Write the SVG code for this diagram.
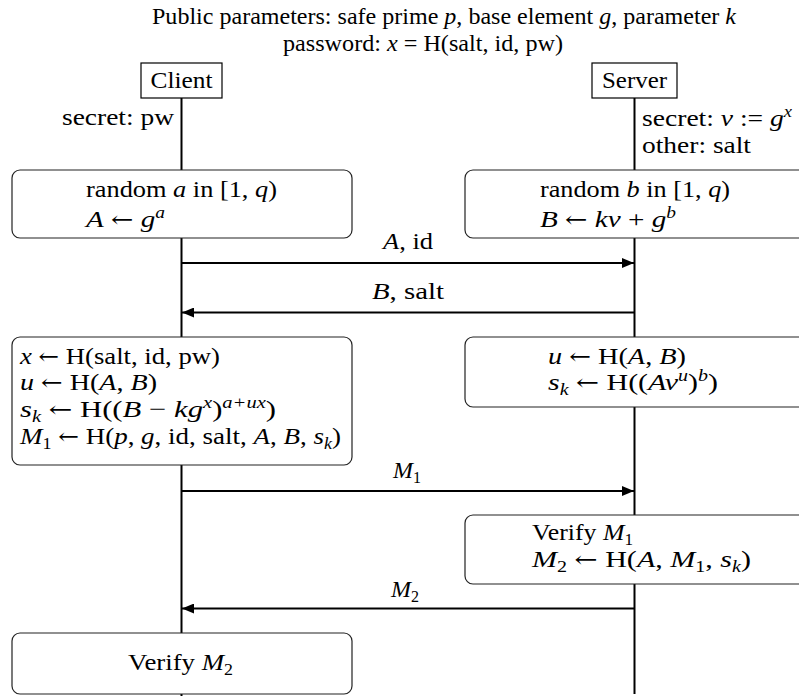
<svg xmlns="http://www.w3.org/2000/svg" width="799" height="696" viewBox="0 0 799 696" font-family="'Liberation Serif', 'Times New Roman', serif">
<defs>
<style>
text { font-family: 'Liberation Serif', 'Times New Roman', serif; font-size: 24px; fill: #000; }
.i { font-style: italic; }
.s { font-size: 16px; }
.ar { font-family: 'DejaVu Serif', 'DejaVu Sans', serif; font-size: 22px; }
.box { fill: #fff; stroke: #222; stroke-width: 1.2; }
.actor { fill: #fff; stroke: #000; stroke-width: 1.2; }
.life { stroke: #000; stroke-width: 2; fill: none; }
.msg { stroke: #000; stroke-width: 2; fill: none; marker-end: url(#arr); }
</style>
<marker id="arr" markerUnits="userSpaceOnUse" markerWidth="12" markerHeight="10" refX="12" refY="5" orient="auto">
<path d="M0,0 L12,5 L0,10 z" fill="#000"/>
</marker>
</defs>
<rect width="799" height="696" fill="#fff"/>

<g id="title">
<text x="444" y="24" text-anchor="middle" textLength="584" lengthAdjust="spacingAndGlyphs">Public parameters: safe prime <tspan class="i">p</tspan>, base element <tspan class="i">g</tspan>, parameter <tspan class="i">k</tspan></text>
<text x="423" y="51" text-anchor="middle" textLength="280" lengthAdjust="spacingAndGlyphs">password: <tspan class="i">x</tspan> = H(salt, id, pw)</text>
</g>

<g id="lifelines">
<line class="life" x1="181.5" y1="98" x2="181.5" y2="696"/>
<line class="life" x1="634.5" y1="98" x2="634.5" y2="694"/>
</g>

<g id="client">
<rect class="actor" x="141" y="63" width="81" height="35"/>
<text x="181.5" y="88" text-anchor="middle" textLength="62" lengthAdjust="spacingAndGlyphs">Client</text>
<text x="174" y="125" text-anchor="end" textLength="112" lengthAdjust="spacingAndGlyphs">secret: pw</text>
</g>

<g id="server">
<rect class="actor" x="592" y="63" width="85" height="35"/>
<text x="634.5" y="88" text-anchor="middle" textLength="65" lengthAdjust="spacingAndGlyphs">Server</text>
<text x="642" y="126" textLength="150" lengthAdjust="spacingAndGlyphs">secret: <tspan class="i">v</tspan> := <tspan class="i">g</tspan><tspan class="i s" dy="-9">x</tspan></text>
<text x="642" y="153" textLength="109" lengthAdjust="spacingAndGlyphs">other: salt</text>
</g>

<g id="client-step1">
<rect class="box" x="12" y="170" width="340" height="68" rx="8"/>
<text x="86" y="197" textLength="191" lengthAdjust="spacingAndGlyphs">random <tspan class="i">a</tspan> in [1, <tspan class="i">q</tspan>)</text>
<text x="86" y="227" textLength="79" lengthAdjust="spacingAndGlyphs"><tspan class="i">A</tspan> <tspan class="ar">←</tspan> <tspan class="i">g</tspan><tspan class="i s" dy="-9">a</tspan></text>
</g>

<g id="server-step1">
<rect class="box" x="465" y="170" width="345" height="68" rx="8"/>
<text x="540" y="197" textLength="190" lengthAdjust="spacingAndGlyphs">random <tspan class="i">b</tspan> in [1, <tspan class="i">q</tspan>)</text>
<text x="540" y="227" textLength="136" lengthAdjust="spacingAndGlyphs"><tspan class="i">B</tspan> <tspan class="ar">←</tspan> <tspan class="i">kv</tspan> + <tspan class="i">g</tspan><tspan class="i s" dy="-9">b</tspan></text>
</g>

<g id="client-step2">
<rect class="box" x="12" y="337" width="340" height="128" rx="8"/>
<text x="20" y="364" textLength="200" lengthAdjust="spacingAndGlyphs"><tspan class="i">x</tspan> <tspan class="ar">←</tspan> H(salt, id, pw)</text>
<text x="20" y="390" textLength="137" lengthAdjust="spacingAndGlyphs"><tspan class="i">u</tspan> <tspan class="ar">←</tspan> H(<tspan class="i">A</tspan>, <tspan class="i">B</tspan>)</text>
<text x="20" y="417" textLength="256" lengthAdjust="spacingAndGlyphs"><tspan class="i">s</tspan><tspan class="i s" dy="5">k</tspan><tspan dy="-5"> </tspan><tspan class="ar">←</tspan> H((<tspan class="i">B</tspan> − <tspan class="i">kg</tspan><tspan class="i s" dy="-9">x</tspan><tspan dy="9">)</tspan><tspan class="i s" dy="-9">a+ux</tspan><tspan dy="9">)</tspan></text>
<text x="20" y="444" textLength="321" lengthAdjust="spacingAndGlyphs"><tspan class="i">M</tspan><tspan class="s" dy="5">1</tspan><tspan dy="-5"> </tspan><tspan class="ar">←</tspan> H(<tspan class="i">p</tspan>, <tspan class="i">g</tspan>, id, salt, <tspan class="i">A</tspan>, <tspan class="i">B</tspan>, <tspan class="i">s</tspan><tspan class="i s" dy="5">k</tspan><tspan dy="-5">)</tspan></text>
</g>

<g id="server-step2">
<rect class="box" x="465" y="337" width="345" height="70" rx="8"/>
<text x="548" y="364" textLength="138" lengthAdjust="spacingAndGlyphs"><tspan class="i">u</tspan> <tspan class="ar">←</tspan> H(<tspan class="i">A</tspan>, <tspan class="i">B</tspan>)</text>
<text x="548" y="390" textLength="170" lengthAdjust="spacingAndGlyphs"><tspan class="i">s</tspan><tspan class="i s" dy="5">k</tspan><tspan dy="-5"> </tspan><tspan class="ar">←</tspan> H((<tspan class="i">Av</tspan><tspan class="i s" dy="-9">u</tspan><tspan dy="9">)</tspan><tspan class="i s" dy="-9">b</tspan><tspan dy="9">)</tspan></text>
</g>

<g id="server-step3">
<rect class="box" x="465" y="515" width="345" height="69" rx="8"/>
<text x="532" y="540" textLength="101" lengthAdjust="spacingAndGlyphs">Verify <tspan class="i">M</tspan><tspan class="s" dy="5">1</tspan></text>
<text x="532" y="567" textLength="219" lengthAdjust="spacingAndGlyphs"><tspan class="i">M</tspan><tspan class="s" dy="5">2</tspan><tspan dy="-5"> </tspan><tspan class="ar">←</tspan> H(<tspan class="i">A</tspan>, <tspan class="i">M</tspan><tspan class="s" dy="5">1</tspan><tspan dy="-5">, </tspan><tspan class="i">s</tspan><tspan class="i s" dy="5">k</tspan><tspan dy="-5">)</tspan></text>
</g>

<g id="client-step3">
<rect class="box" x="12" y="633" width="340" height="61" rx="8"/>
<text x="180.5" y="670" text-anchor="middle" textLength="105" lengthAdjust="spacingAndGlyphs">Verify <tspan class="i">M</tspan><tspan class="s" dy="5">2</tspan></text>
</g>

<g id="connectors">
<line class="msg" x1="181.5" y1="263" x2="634" y2="263"/>
<text x="408" y="249" text-anchor="middle" textLength="50" lengthAdjust="spacingAndGlyphs"><tspan class="i">A</tspan>, id</text>
<line class="msg" x1="634.5" y1="312.5" x2="182" y2="312.5"/>
<text x="408" y="299" text-anchor="middle" textLength="72" lengthAdjust="spacingAndGlyphs"><tspan class="i">B</tspan>, salt</text>
<line class="msg" x1="181.5" y1="491" x2="634" y2="491"/>
<text x="407" y="478" text-anchor="middle"><tspan class="i">M</tspan><tspan class="s" dy="5">1</tspan></text>
<line class="msg" x1="634.5" y1="608.5" x2="182" y2="608.5"/>
<text x="405" y="597" text-anchor="middle"><tspan class="i">M</tspan><tspan class="s" dy="5">2</tspan></text>
</g>
</svg>
